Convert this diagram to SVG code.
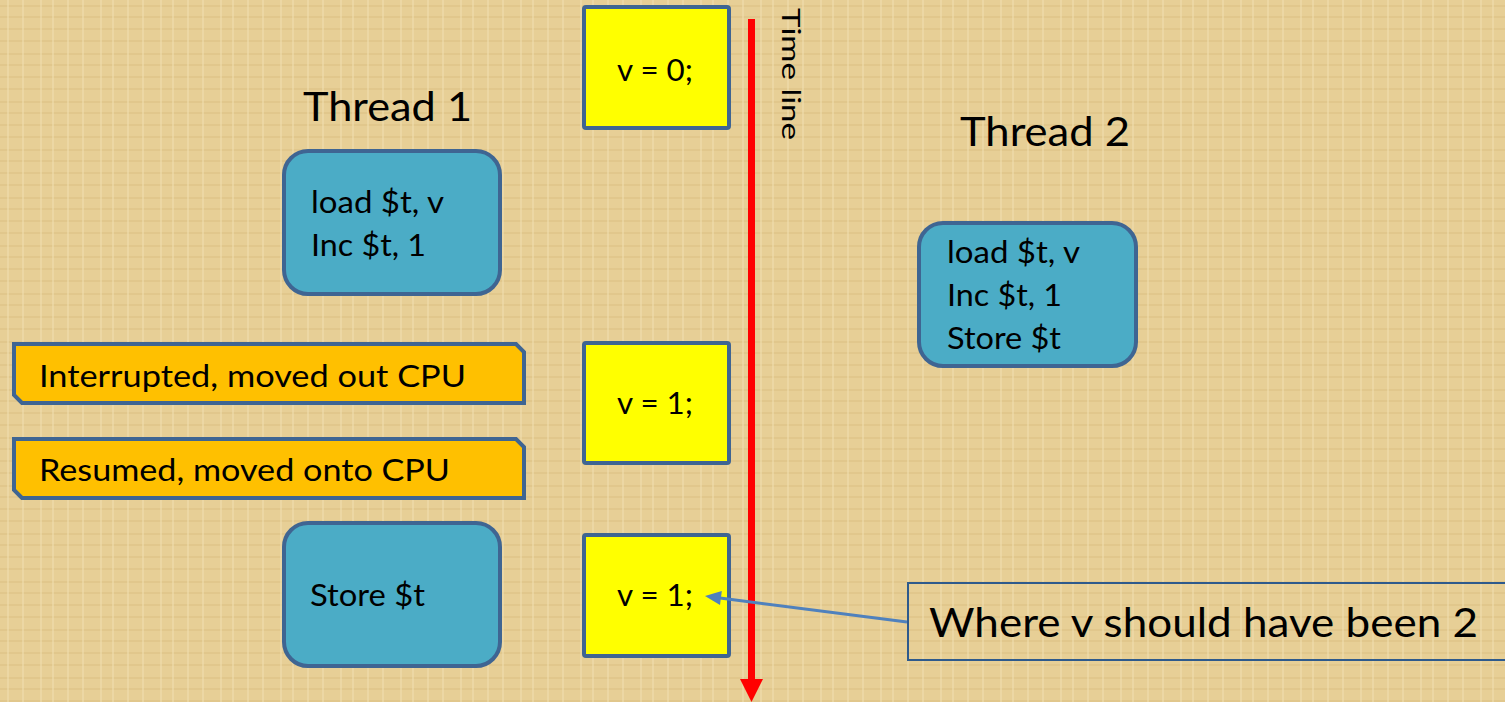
<svg xmlns="http://www.w3.org/2000/svg" width="1505" height="702" viewBox="0 0 1505 702">
<defs>
<pattern id="tex" width="60" height="48" patternUnits="userSpaceOnUse">
<rect width="60" height="48" fill="#e7cf96"/>
<path d="M0 6H60M0 17H60M0 29H60M0 41H60" stroke="#d9bd80" stroke-width="2" opacity="0.45"/>
<path d="M8 0V48M23 0V48M41 0V48M53 0V48" stroke="#f1dfae" stroke-width="2" opacity="0.55"/>
</pattern>
<style>
.t{font-family:Lato,"Open Sans","Liberation Sans",sans-serif;fill:#000}
.y{fill:#ffff00;stroke:#3f6592;stroke-width:4}
.b{fill:#4bacc6;stroke:#3f6592;stroke-width:4}
.o{fill:#ffc000;stroke:#3f6592;stroke-width:4}
</style>
</defs>
<rect width="1505" height="702" fill="url(#tex)"/>

<g id="timeline">
<rect x="748" y="19" width="7" height="662" fill="#ff0000"/>
<path d="M740,679 L763,679 L751.5,702 Z" fill="#ff0000"/>
<text class="t" font-size="25" textLength="132" lengthAdjust="spacingAndGlyphs" transform="translate(782,8) rotate(90)">Time line</text>
</g>

<g id="v0"><rect class="y" x="584" y="7" width="145" height="121" rx="2"/><text class="t" x="617" y="81" font-size="31" textLength="76" lengthAdjust="spacingAndGlyphs">v = 0;</text></g>
<g id="v1a"><rect class="y" x="584" y="343" width="145" height="120" rx="2"/><text class="t" x="617" y="414" font-size="31" textLength="76" lengthAdjust="spacingAndGlyphs">v = 1;</text></g>
<g id="v1b"><rect class="y" x="584" y="535" width="145" height="121" rx="2"/><text class="t" x="617" y="606" font-size="31" textLength="76" lengthAdjust="spacingAndGlyphs">v = 1;</text></g>

<g id="thread1"><text class="t" x="303" y="121" font-size="40" textLength="169" lengthAdjust="spacingAndGlyphs">Thread 1</text></g>
<g id="thread2"><text class="t" x="960" y="146" font-size="40" textLength="170" lengthAdjust="spacingAndGlyphs">Thread 2</text></g>

<g id="t1a"><rect class="b" x="284" y="151" width="216" height="143" rx="24"/>
<text class="t" x="311" y="213" font-size="30" textLength="133" lengthAdjust="spacingAndGlyphs">load $t, v</text>
<text class="t" x="311" y="256" font-size="30" textLength="115" lengthAdjust="spacingAndGlyphs">Inc $t, 1</text></g>

<g id="t2"><rect class="b" x="919" y="223" width="217" height="143" rx="24"/>
<text class="t" x="947" y="263" font-size="30" textLength="133" lengthAdjust="spacingAndGlyphs">load $t, v</text>
<text class="t" x="947" y="306" font-size="30" textLength="115" lengthAdjust="spacingAndGlyphs">Inc $t, 1</text>
<text class="t" x="947" y="349" font-size="30" textLength="114" lengthAdjust="spacingAndGlyphs">Store $t</text></g>

<g id="t1b"><rect class="b" x="284" y="523" width="216" height="143" rx="24"/>
<text class="t" x="310" y="606" font-size="30" textLength="115" lengthAdjust="spacingAndGlyphs">Store $t</text></g>

<g id="interrupted"><path class="o" d="M14,344 H516 L524,352 V403 H22 L14,395 Z"/>
<text class="t" x="39" y="387" font-size="31" textLength="427" lengthAdjust="spacingAndGlyphs">Interrupted, moved out CPU</text></g>
<g id="resumed"><path class="o" d="M14,439 H516 L524,447 V498 H22 L14,490 Z"/>
<text class="t" x="39" y="481" font-size="31" textLength="411" lengthAdjust="spacingAndGlyphs">Resumed, moved onto CPU</text></g>

<g id="note"><rect x="908" y="583" width="600" height="77" fill="none" stroke="#2e5a8c" stroke-width="2"/>
<text class="t" x="929" y="637" font-size="40" textLength="549" lengthAdjust="spacingAndGlyphs">Where v should have been 2</text></g>

<g id="connectors">
<line x1="907" y1="622" x2="720" y2="598" stroke="#4f81bd" stroke-width="3"/>
<path d="M705,596 L721.8,591.1 L720,605 Z" fill="#4f81bd"/>
</g>
</svg>
